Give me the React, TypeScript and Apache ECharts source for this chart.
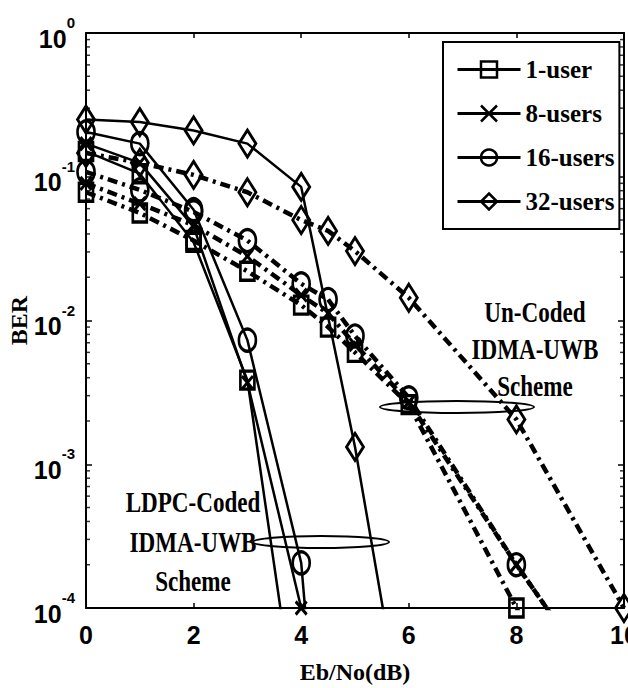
import React, { useEffect, useRef } from 'react';
import * as echarts from 'echarts';

// ---------- data ----------
const X_TICKS = [0, 2, 4, 6, 8, 10];
const CODED_X = [0, 1, 2, 3, 4, 5, 6];
const UNCODED_X = [0, 1, 2, 3, 4, 4.5, 5, 6, 8, 10];

const coded1 = [0.15, 0.105, 0.035, 0.00385, 1.0e-5];
const coded8 = [0.17, 0.125, 0.045, 0.0037, 1.0e-4];
const coded16 = [0.205, 0.17, 0.059, 0.0073, 2.06e-4, 8e-9];
const coded32 = [0.25, 0.24, 0.21, 0.17, 0.085, 0.00132, 9e-6];

const uncoded1 = [0.078, 0.056, 0.036, 0.022, 0.0128, 0.009, 0.006, 0.0026, 1.0e-4, 4e-6];
const uncoded8 = [0.09, 0.065, 0.046, 0.028, 0.015, 0.0112, 0.0068, 0.0027, 2.0e-4, 1.7e-5];
const uncoded16 = [0.108, 0.081, 0.057, 0.036, 0.018, 0.014, 0.0078, 0.0029, 2.0e-4, 1.7e-5];
const uncoded32 = [0.146, 0.125, 0.103, 0.078, 0.05, 0.042, 0.0304, 0.0144, 0.00205, 1.0e-4];

const LEGEND_NAMES = ['1-user', '8-users', '16-users', '32-users'];
const MINOR_TICKS = [
  2e-4, 3e-4, 4e-4, 5e-4, 6e-4, 7e-4, 8e-4, 9e-4,
  2e-3, 3e-3, 4e-3, 5e-3, 6e-3, 7e-3, 8e-3, 9e-3,
  2e-2, 3e-2, 4e-2, 5e-2, 6e-2, 7e-2, 8e-2, 9e-2,
  0.2, 0.3, 0.4, 0.5, 0.6, 0.7, 0.8, 0.9,
];

const SANS = "'Liberation Sans Narrow', 'Liberation Sans', Arial, sans-serif";
const SERIF = "'Liberation Serif', 'Times New Roman', serif";
const X_SYMBOL = 'path://M0,0L10,12M10,0L0,12';

function lineSeries(name: string, xs: number[], ys: number[], symbol: string, size: number[], dashed: boolean) {
  return {
    name,
    type: 'line',
    data: ys.map((v, i) => [xs[i], v]),
    symbol,
    symbolSize: size,
    showSymbol: true,
    showAllSymbol: true,
    clip: true,
    silent: true,
    lineStyle: { color: '#000', width: dashed ? 4.5 : 2.5, type: dashed ? [10, 5, 3, 5] : 'solid', cap: 'butt' },
    itemStyle: { color: 'rgba(0,0,0,0)', borderColor: '#000', borderWidth: 3 },
    emphasis: { disabled: true },
    z: 3,
  };
}

function minorTickSeries(x: number, offset: number) {
  return {
    type: 'scatter',
    name: 'minor' + x,
    data: MINOR_TICKS.map((v) => [x, v]),
    symbol: 'rect',
    symbolSize: [4, 1.5],
    symbolOffset: [offset, 0],
    itemStyle: { color: '#000' },
    silent: true,
    clip: false,
    emphasis: { disabled: true },
    z: 5,
  };
}

const yLabel = {
  show: true,
  margin: 11,
  formatter: (v: number) => `{b|10}{s|${Math.round(Math.log10(v))}}`,
  rich: {
    b: { fontFamily: SANS, fontWeight: 'bold', fontSize: 25, color: '#000', verticalAlign: 'bottom', lineHeight: 36 },
    s: { fontFamily: SANS, fontWeight: 'bold', fontSize: 15, color: '#000', verticalAlign: 'top', lineHeight: 36 },
  },
};

function annot(text: string, x: number, y: number) {
  return {
    type: 'text',
    x,
    y,
    scaleX: 0.77,
    z: 100,
    style: {
      text,
      fontFamily: SERIF,
      fontWeight: 'bold',
      fontSize: 30,
      fill: '#000',
      align: 'center',
      verticalAlign: 'middle',
    },
  };
}

const option: any = {
  animation: false,
  backgroundColor: '#fff',
  grid: { left: 86, right: 4, top: 33, bottom: 80, containLabel: false, outerBoundsMode: 'none' },
  legend: {
    data: LEGEND_NAMES,
    orient: 'vertical',
    left: 443,
    top: 42,
    padding: [15, 5, 15, 13],
    itemWidth: 63,
    itemHeight: 20,
    itemGap: 19,
    borderColor: '#000',
    borderWidth: 2,
    borderRadius: 0,
    backgroundColor: '#fff',
    selectedMode: false,
    itemStyle: { borderWidth: 2.5, borderColor: '#000', color: 'rgba(0,0,0,0)' },
    lineStyle: { width: 3, color: '#000' },
    textStyle: { fontFamily: SERIF, fontWeight: 'bold', fontSize: 25, color: '#000' },
  },
  xAxis: [
    {
      type: 'value',
      min: 0,
      max: 10,
      interval: 2,
      name: 'Eb/No(dB)',
      nameLocation: 'middle',
      nameGap: 52,
      nameMoveOverlap: false,
      nameTextStyle: { fontFamily: SERIF, fontWeight: 'bold', fontSize: 24, color: '#000' },
      axisLine: { show: true, onZero: false, lineStyle: { color: '#000', width: 2 } },
      axisTick: { show: true, inside: true, length: 5, lineStyle: { color: '#000', width: 1.5 } },
      axisLabel: {
        show: true,
        margin: 14,
        showMinLabel: true,
        showMaxLabel: true,
        fontFamily: SANS,
        fontWeight: 'bold',
        fontSize: 25,
        color: '#000',
        formatter: (v: number) => (X_TICKS.includes(v) ? String(v) : ''),
      },
      splitLine: { show: false },
    },
    {
      type: 'value',
      position: 'top',
      min: 0,
      max: 10,
      interval: 2,
      axisLine: { show: true, onZero: false, lineStyle: { color: '#000', width: 2 } },
      axisTick: { show: true, inside: true, length: 5, lineStyle: { color: '#000', width: 1.5 } },
      axisLabel: { show: false },
      splitLine: { show: false },
    },
  ],
  yAxis: [
    {
      type: 'log',
      logBase: 10,
      min: 1e-4,
      max: 1,
      name: 'BER',
      nameLocation: 'middle',
      nameGap: 55,
      nameMoveOverlap: false,
      nameTextStyle: { fontFamily: SERIF, fontWeight: 'bold', fontSize: 24, color: '#000' },
      axisLine: { show: true, onZero: false, lineStyle: { color: '#000', width: 2 } },
      axisTick: { show: true, inside: true, length: 6, lineStyle: { color: '#000', width: 1.5 } },
      axisLabel: yLabel,
      splitLine: { show: false },
    },
    {
      type: 'log',
      logBase: 10,
      min: 1e-4,
      max: 1,
      position: 'right',
      axisLine: { show: true, onZero: false, lineStyle: { color: '#000', width: 2 } },
      axisTick: { show: true, inside: true, length: 6, lineStyle: { color: '#000', width: 1.5 } },
      axisLabel: { show: false },
      splitLine: { show: false },
    },
  ],
  series: [
    lineSeries('1-user', CODED_X, coded1, 'rect', [14, 18], false),
    lineSeries('8-users', CODED_X, coded8, X_SYMBOL, [11, 13], false),
    lineSeries('16-users', CODED_X, coded16, 'circle', [17, 22], false),
    lineSeries('32-users', CODED_X, coded32, 'diamond', [17, 27], false),
    lineSeries('1-user (un-coded)', UNCODED_X, uncoded1, 'rect', [14, 18], true),
    lineSeries('8-users (un-coded)', UNCODED_X, uncoded8, X_SYMBOL, [11, 13], true),
    lineSeries('16-users (un-coded)', UNCODED_X, uncoded16, 'circle', [17, 22], true),
    lineSeries('32-users (un-coded)', UNCODED_X, uncoded32, 'diamond', [17, 27], true),
    minorTickSeries(0, 2),
    minorTickSeries(10, -2),
  ],
  graphic: [
    { type: 'ellipse', z: 100, shape: { cx: 457, cy: 407, rx: 77, ry: 6 }, style: { fill: 'none', stroke: '#000', lineWidth: 2 } },
    { type: 'ellipse', z: 100, shape: { cx: 321, cy: 542, rx: 68, ry: 6 }, style: { fill: 'none', stroke: '#000', lineWidth: 2 } },
    annot('Un-Coded', 535, 312),
    annot('IDMA-UWB', 535, 349),
    annot('Scheme', 535, 386),
    annot('LDPC-Coded', 193, 502),
    annot('IDMA-UWB', 193, 542),
    annot('Scheme', 193, 581),
  ],
};

export default function App() {
  const ref = useRef<HTMLDivElement>(null);
  useEffect(() => {
    const chart = echarts.init(ref.current!, null, { renderer: 'svg' });
    chart.setOption(option);
    return () => chart.dispose();
  }, []);
  return <div ref={ref} style={{ position: 'fixed', left: 0, top: 0, width: 628, height: 688 }} />;
}
